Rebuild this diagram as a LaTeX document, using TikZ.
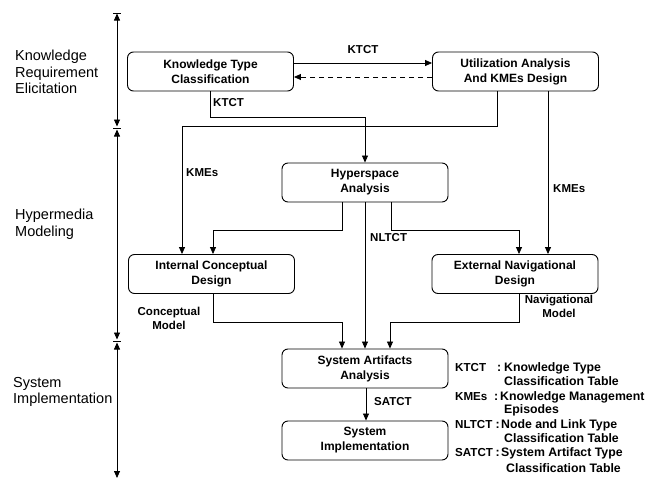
\documentclass[tikz,border=0pt]{standalone}
\usepackage{fontspec}
\setmainfont{Liberation Sans}
\usetikzlibrary{arrows.meta}
\begin{document}
\tikzset{
  box/.style={draw, rounded corners=6pt, line width=0.9pt, minimum width=166pt,
    minimum height=39pt, inner sep=0pt, align=center,
    font=\fontsize{12}{15}\selectfont\bfseries},
  arr/.style={-{Triangle[length=7pt,width=6pt]}, line width=0.8pt},
  dbl/.style={{Triangle[length=7pt,width=6pt]}-{Triangle[length=7pt,width=6pt]}, line width=0.8pt},
  lab/.style={font=\fontsize{11.5}{14}\selectfont\bfseries, inner sep=1pt},
  side/.style={font=\fontsize{14.5}{16.5}\selectfont, align=left, anchor=west, inner sep=0pt},
  leg/.style={font=\fontsize{12.3}{14}\selectfont\bfseries, anchor=west, inner sep=0pt},
  legab/.style={leg, font=\fontsize{11.6}{14}\selectfont\bfseries},
  tick/.style={line width=1pt},
}
\begin{tikzpicture}[x=1pt,y=-1pt]
\useasboundingbox (0,0) rectangle (662,482);

% phase axis on the left
\coordinate (a0) at (117,13);
\coordinate (a1) at (117,128);
\coordinate (a2) at (117,341);
\coordinate (a3) at (117,478);
\foreach \c in {a0,a1,a2}
  \draw[tick] ([xshift=-4pt]\c) -- ([xshift=4pt]\c);
\draw[dbl] ([yshift=-0.5pt]a0) -- ([yshift=1.5pt]a1);
\draw[dbl] ([yshift=-1.5pt]a1) -- ([yshift=1.5pt]a2);
\draw[dbl] ([yshift=-1.5pt]a2) -- (a3);

\node[side] (p1) at (15,72) {Knowledge\\Requirement\\Elicitation};
\node[side] (p2) at (15,224) {Hypermedia\\Modeling};
\node[side] (p3) at (13,392) {System\\Implementation};

% process boxes
\node[box] (ktc) at (210.5,71.5) {Knowledge Type\\Classification};
\node[box] (ua)  at (515.5,71.5) {Utilization Analysis\\And KMEs Design};
\node[box] (ha)  at (365,182.5)  {Hyperspace\\Analysis};
\node[box] (icd) at (211.5,274)  {Internal Conceptual\\Design};
\node[box] (end) at (515,274)    {External Navigational\\Design};
\node[box] (saa) at (365,368.5)  {System Artifacts\\Analysis};
\node[box] (si)  at (365,440.5)  {System\\Implementation};

% flows
\draw[arr] ([yshift=8.5pt]ktc.east) -- ([yshift=8.5pt]ua.west);
\node[lab] (l1) at (363,50) {KTCT};
\draw[arr, dash pattern=on 5pt off 4pt] ([yshift=-5.5pt]ua.west) -- ([yshift=-5.5pt]ktc.east);

\draw[arr] (ktc.south) -- ++(0,26) -| (ha.north);
\node[lab, anchor=west] (l2) at (212,103) {KTCT};

\draw[arr] ([xshift=-18.5pt]ua.south) -- ++(0,35) -| ([xshift=-29.5pt]icd.north);
\node[lab, anchor=west] (l3) at (185,173) {KMEs};

\draw[arr] ([xshift=32.5pt]ua.south) -- ([xshift=32.5pt]ua.south |- end.north);
\node[lab, anchor=west] (l4) at (552,189) {KMEs};

\draw[arr] ([xshift=-23pt]ha.south) -- ++(0,28) -| ([xshift=1.5pt]icd.north);
\draw[arr] ([xshift=26pt]ha.south) -- ++(0,28) -| ([xshift=4pt]end.north);
\draw[arr] (ha.south) -- (saa.north);
\node[lab, anchor=west] (l5) at (369,238) {NLTCT};

\draw[arr] ([xshift=2pt]icd.south) -- ++(0,28) -| ([xshift=-23pt]saa.north);
\node[lab, align=center] (l6) at (169,318) {Conceptual\\Model};

\draw[arr] ([xshift=4pt]end.south) -- ++(0,28) -| ([xshift=25pt]saa.north);
\node[lab, align=center] (l7) at (559,306) {Navigational\\Model};

\draw[arr] ([xshift=1pt]saa.south) -- ([xshift=1pt]si.north);
\node[lab, anchor=west] (l8) at (373,402) {SATCT};

% legend
\node[legab] (k1) at (455,368) {KTCT};
\node[leg] (k1c) at (497,368) {:};
\node[leg] (k1d) at (504,368) {Knowledge Type};
\node[leg] (k1e) at (504,381) {Classification Table};

\node[legab] (k2) at (455,397) {KMEs};
\node[leg] (k2c) at (494,397) {:};
\node[leg] (k2d) at (500,397) {Knowledge Management};
\node[leg] (k2e) at (504,410) {Episodes};

\node[legab] (k3) at (455,425) {NLTCT};
\node[leg] (k3c) at (495.5,425) {:};
\node[leg] (k3d) at (501,425) {Node and Link Type};
\node[leg] (k3e) at (504,438) {Classification Table};

\node[legab] (k4) at (455,453) {SATCT};
\node[leg] (k4c) at (495.5,453) {:};
\node[leg] (k4d) at (501,453) {System Artifact Type};
\node[leg] (k4e) at (506,468) {Classification Table};
\end{tikzpicture}
\end{document}
